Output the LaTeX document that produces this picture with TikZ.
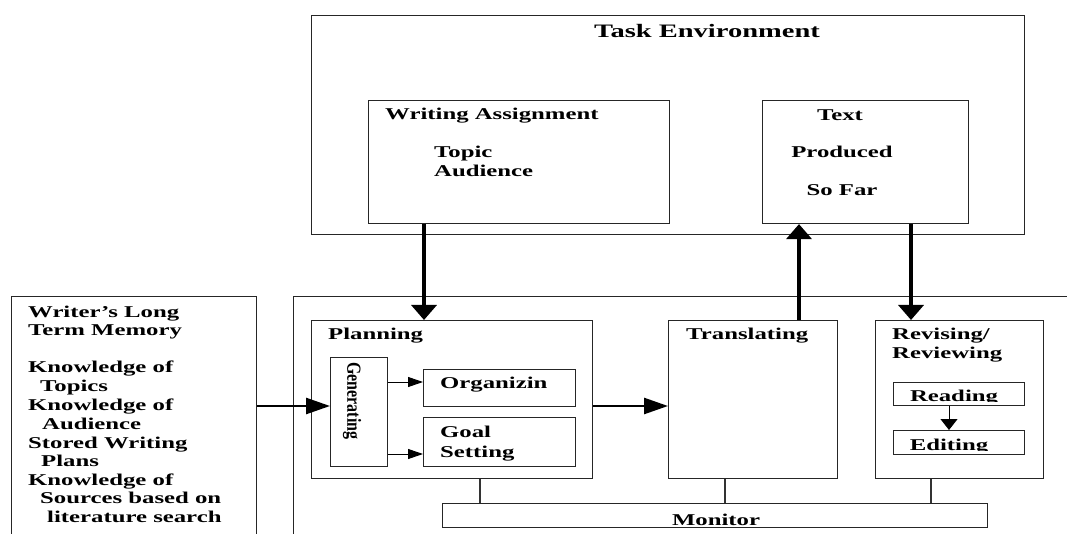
\documentclass[tikz,border=0pt]{standalone}
\usepackage{fontspec}
\newfontfamily\widef{Liberation Serif}[FakeStretch=1.5]
\newfontfamily\plainf{Liberation Serif}
\usetikzlibrary{arrows.meta}
\tikzset{
  box/.style={draw=black!85, line width=1.1pt, inner sep=0pt, anchor=north west},
  txt/.style={inner sep=0pt, anchor=base west, font=\widef\bfseries\fontsize{16.5}{19}\selectfont},
  ctxt/.style={txt, anchor=base},
  bigarrow/.style={line width=3.6pt, -{Triangle[length=15pt,width=25pt]}},
  medarrow/.style={line width=2.6pt, -{Triangle[length=24pt,width=16pt]}},
  smallarrow/.style={line width=1pt, -{Triangle[length=15pt,width=10pt]}},
  tinyarrow/.style={line width=1pt, -{Triangle[length=11pt,width=17pt]}},
  link/.style={line width=1.1pt, draw=black!80}
}
\begin{document}
\begin{tikzpicture}[x=1pt,y=-1pt]
\path[use as bounding box, fill=white] (0,0) rectangle (1067,534);
\clip (0,0) rectangle (1067,534);

% Task environment
\node[box, minimum width=713pt, minimum height=219pt] (taskenv) at (311,15) {};
\node[ctxt, font=\widef\bfseries\fontsize{19}{22}\selectfont] (tasktitle) at (707,38) {Task Environment};
\node[box, minimum width=301pt, minimum height=123pt] (wa) at (368,100) {};
\node[txt] (watitle) at (385,120) {Writing Assignment};
\node[txt] (watopic) at (434,158) {Topic};
\node[txt] (waaud) at (434,177) {Audience};
\node[box, minimum width=206pt, minimum height=123pt] (tpsf) at (762,100) {};
\node[ctxt] (tpsf1) at (840,121) {Text};
\node[ctxt] (tpsf2) at (842,158) {Produced};
\node[ctxt] (tpsf3) at (842,196) {So Far};

% Long term memory
\node[box, minimum width=245pt, minimum height=300pt] (ltm) at (11,296) {};
\node[txt] (ltm1) at (28,317) {Writer’s Long};
\node[txt] (ltm2) at (28,335) {Term Memory};
\node[txt] (ltm3) at (28,372) {Knowledge of};
\node[txt] (ltm4) at (40,391) {Topics};
\node[txt] (ltm5) at (28,410) {Knowledge of};
\node[txt] (ltm6) at (42,429) {Audience};
\node[txt] (ltm7) at (28,448) {Stored Writing};
\node[txt] (ltm8) at (41,466) {Plans};
\node[txt] (ltm9) at (28,485) {Knowledge of};
\node[txt] (ltm10) at (40,503) {Sources based on};
\node[txt] (ltm11) at (47,522) {literature search};

% Writing processes
\node[box, minimum width=800pt, minimum height=300pt] (proc) at (293,296) {};
\node[box, minimum width=281pt, minimum height=158pt] (plan) at (311,320) {};
\node[txt] (plantitle) at (328,339) {Planning};
\node[box, minimum width=57pt, minimum height=109pt] (gen) at (330,357) {};
\node[inner sep=0pt, font=\plainf\bfseries\fontsize{16}{19}\selectfont] (gentext) at (352,401) {\rotatebox{-90}{\scalebox{1}[1.25]{Generating}}};
\node[box, minimum width=152pt, minimum height=37pt] (org) at (423,369) {};
\node[txt] (orgtext) at (440,388) {Organizin};
\node[box, minimum width=152pt, minimum height=49pt] (goal) at (423,417) {};
\node[txt] (goal1) at (440,437) {Goal};
\node[txt] (goal2) at (440,457) {Setting};

\node[box, minimum width=169pt, minimum height=158pt] (trans) at (668,320) {};
\node[txt] (transtitle) at (686,339) {Translating};

\node[box, minimum width=168pt, minimum height=158pt] (rev) at (875,320) {};
\node[txt] (rev1) at (892,339) {Revising/};
\node[txt] (rev2) at (892,358) {Reviewing};
\node[box, minimum width=131pt, minimum height=23pt] (read) at (893,382) {};
\node[box, minimum width=131pt, minimum height=24pt] (edit) at (893,430) {};
\begin{scope}
  \clip (893,382) rectangle (1024,401.5);
  \node[ctxt] (readtext) at (954,401) {Reading};
\end{scope}
\begin{scope}
  \clip (893,430) rectangle (1024,450.5);
  \node[ctxt] (edittext) at (949,450) {Editing};
\end{scope}

\node[box, minimum width=545pt, minimum height=24pt] (mon) at (442,503) {};
\node[ctxt] (montext) at (716,525) {Monitor};

% connectors
\draw[bigarrow] (424,0 |- wa.south) -- (424,0 |- plan.north);
\draw[bigarrow] (799,0 |- trans.north) -- (799,0 |- tpsf.south);
\draw[bigarrow] (911,0 |- tpsf.south) -- (911,0 |- rev.north);
\draw[medarrow] (ltm.east |- 0,406) -- (gen.west |- 0,406);
\draw[medarrow] (plan.east |- 0,406) -- (trans.west |- 0,406);
\draw[smallarrow] (gen.east |- 0,382) -- (org.west |- 0,382);
\draw[smallarrow] (gen.east |- 0,454) -- (goal.west |- 0,454);
\draw[tinyarrow] (949,0 |- read.south) -- (949,0 |- edit.north);
\draw[link] (480,0 |- plan.south) -- (480,0 |- mon.north);
\draw[link] (725,0 |- trans.south) -- (725,0 |- mon.north);
\draw[link] (931,0 |- rev.south) -- (931,0 |- mon.north);
\end{tikzpicture}
\end{document}
